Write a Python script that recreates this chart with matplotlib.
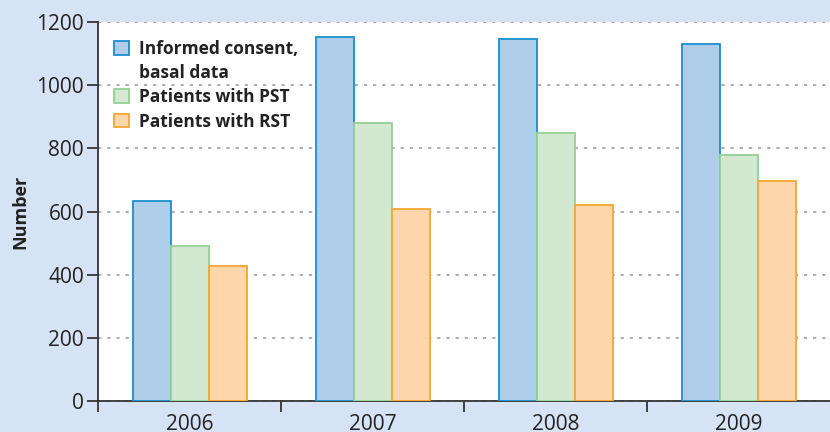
import matplotlib
matplotlib.use("Agg")
import matplotlib.pyplot as plt
from matplotlib.patches import Patch
import numpy as np

plt.rcParams['font.family'] = ['Open Sans', 'DejaVu Sans']

years = ["2006", "2007", "2008", "2009"]
informed = [633, 1153, 1146, 1131]
pst = [491, 880, 849, 779]
rst = [427, 608, 621, 697]
series_labels = ["Informed consent,", "Patients with PST", "Patients with RST"]
extra_line = "basal data"
yticks = [0, 200, 400, 600, 800, 1000, 1200]

fills = ["#aecde9", "#d3e8d1", "#fdd7ab"]
edges = ["#1a8fd0", "#94d094", "#f5a630"]
bg = "#d5e3f5"

fig = plt.figure(figsize=(8.3, 4.32), dpi=100, facecolor=bg)
ax = fig.add_axes([98/830, 31/432, 732/830, 379/432])
ax.set_facecolor("white")

x = np.arange(len(years))
w = 38/183
bars = []
for i, (vals, lab) in enumerate(zip([informed, pst, rst], series_labels)):
    b = ax.bar(x + (i - 1) * w, vals, width=w, color=fills[i], edgecolor=edges[i],
               linewidth=1.3, label=lab, zorder=3)
    bars.append(b)

ax.set_xlim(-0.5, 3.5)
ax.set_ylim(0, 1200)
ax.set_yticks(yticks)
ax.set_yticklabels([str(v) for v in yticks], fontsize=15, color="#222222")
ax.yaxis.grid(True, linestyle=(0, (2, 3.5)), color="#a0a0a0", linewidth=1.2, zorder=0)
ax.set_axisbelow(True)

ax.set_xticks(x)
ax.set_xticklabels(years, fontsize=15, color="#222222")
ax.tick_params(axis='x', which='major', length=0, pad=9)
ax.set_xticks([-0.5, 0.5, 1.5, 2.5], minor=True)
ax.tick_params(axis='x', which='minor', length=8, width=1.3, color="#333333", direction='out')
ax.tick_params(axis='y', length=8, width=1.3, color="#333333", direction='out', pad=2)

for s in ['top', 'right']:
    ax.spines[s].set_visible(False)
for s in ['left', 'bottom']:
    ax.spines[s].set_color("#333333")
    ax.spines[s].set_linewidth(1.3)

ax.set_ylabel("Number", fontsize=13, fontweight='bold', color="#222222", labelpad=5)

blank = Patch(facecolor='none', edgecolor='none')
handles = [bars[0], blank, bars[1], bars[2]]
labels = [series_labels[0], extra_line, series_labels[1], series_labels[2]]
leg = ax.legend(handles, labels, loc='upper left', bbox_to_anchor=(0.005, 0.985), frameon=False,
                prop={'weight': 'bold', 'size': 12.5}, handlelength=0.85, handleheight=0.85,
                handletextpad=0.6, labelspacing=0.36, borderaxespad=0.3)
for t in leg.get_texts():
    t.set_color("#222222")

fig.savefig("out.png", dpi=100, facecolor=bg)
